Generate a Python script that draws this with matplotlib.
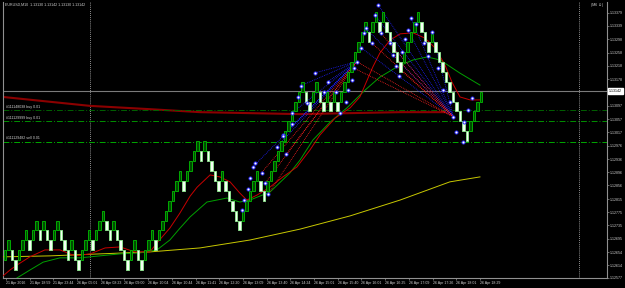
import matplotlib
matplotlib.use("Agg")
import matplotlib.pyplot as plt

plt.rcParams["font.family"] = ["Liberation Sans", "DejaVu Sans"]

# chart header and axis labels
title = "EURUSD,M10  1.13130 1.13142 1.13130 1.13142"
bid = 1.13142
price_ticks = [1.13379, 1.13339, 1.13298, 1.13258, 1.13218, 1.13178, 1.13097, 1.13057,
               1.13017, 1.12976, 1.12936, 1.12896, 1.12856, 1.12815, 1.12775, 1.12735,
               1.12695, 1.12654, 1.12614, 1.12577]
time_labels = ["21 Apr 2016", "21 Apr 18:59", "21 Apr 23:44", "26 Apr 05:01", "26 Apr 08:23",
               "26 Apr 09:00", "26 Apr 10:04", "26 Apr 10:44", "26 Apr 11:41", "26 Apr 12:20",
               "26 Apr 13:09", "26 Apr 13:40", "26 Apr 14:24", "26 Apr 15:01", "26 Apr 15:40",
               "26 Apr 16:01", "26 Apr 16:25", "26 Apr 17:09", "26 Apr 17:26", "26 Apr 18:01",
               "26 Apr 18:29"]

# renko bricks: bottom level of each brick (in bricks above base price)
base_price = 1.12600
brick = 0.00030
renko_levels = [1, 2, 1, 0, 1, 2, 3, 2, 3, 4, 3, 4, 3, 2, 3, 4, 3, 2, 1, 2, 1, 0, 1, 2, 3, 2, 3,
                4, 5, 4, 3, 4, 3, 2, 1, 0, 1, 2, 1, 0, 1, 2, 3,
                2, 3, 4, 5, 6, 7, 8, 9, 8, 9, 10, 11, 12, 11, 12, 11, 10, 9, 8, 9, 8, 7, 6, 5, 4,
                5, 6, 7, 8, 9, 8, 7, 8, 9, 10, 11, 12, 13, 14, 15, 16, 17,
                18, 17, 16, 17, 18, 17, 16, 17, 16, 17, 16, 17, 18, 19, 20, 21, 22, 23, 24, 23,
                24, 25, 24, 25,
                24, 23, 22, 21, 20, 21, 22, 23, 24, 25, 24, 23, 22, 23, 22, 21, 20, 19, 18, 17,
                16, 15, 14, 13, 14, 15, 16, 17]

# moving averages (bar index, price)
ma_fast_x = [-0.6, 1.4, 3.4, 7.1, 11.4, 15.7, 20, 24.3, 28.6, 32.9, 37.1, 41.4, 43.4, 47.1, 50,
             52.9, 54.9, 58.6, 61.4, 64.3, 67.1, 69.1, 72, 75.7, 79.4, 83.4, 87.1, 90, 94.3,
             98.6, 101.4, 105.1, 107.1, 110, 112.9, 116.6, 120, 122.9, 125.7, 127.7, 130,
             132.9, 135.7]
ma_fast_y = [1.12582, 1.12600, 1.12615, 1.12640, 1.12661, 1.12661, 1.12643, 1.12649, 1.12667,
             1.12670, 1.12655, 1.12655, 1.12682, 1.12727, 1.12773, 1.12824, 1.12851, 1.12888,
             1.12882, 1.12867, 1.12833, 1.12812, 1.12827, 1.12851, 1.12882, 1.12912, 1.12963,
             1.13009, 1.13060, 1.13091, 1.13124, 1.13215, 1.13257, 1.13296, 1.13315, 1.13318,
             1.13302, 1.13272, 1.13221, 1.13169, 1.13124, 1.13115, 1.13115]
ma_mid_x = [3.4, 7.1, 10.9, 15.7, 21.4, 27.1, 32.9, 38.6, 43.4, 47.1, 50, 52.9, 57.7, 63.4,
            67.1, 70, 75.7, 81.4, 84.3, 88, 92.9, 97.7, 102.9, 107.1, 112, 116.6, 120.6,
            124.3, 130, 135.7]
ma_mid_y = [1.12576, 1.12600, 1.12624, 1.12637, 1.12637, 1.12643, 1.12649, 1.12652, 1.12661,
            1.12691, 1.12727, 1.12761, 1.12806, 1.12818, 1.12806, 1.12812, 1.12836, 1.12894,
            1.12933, 1.12994, 1.13048, 1.13091, 1.13145, 1.13184, 1.13215, 1.13236, 1.13245,
            1.13236, 1.13196, 1.13160]
ma_slow_x = [-0.6, 12.9, 27.1, 41.4, 55.7, 70, 84.3, 98.6, 112.9, 127.1, 135.7]
ma_slow_y = [1.12640, 1.12643, 1.12649, 1.12655, 1.12667, 1.12691, 1.12724, 1.12764, 1.12812,
             1.12867, 1.12882]
ma_htf_x = [-0.6, 24.3, 41.4, 55.7, 70, 84.3, 98.6, 112.9, 125.7]
ma_htf_y = [1.13124, 1.13097, 1.13087, 1.13078, 1.13075, 1.13072, 1.13075, 1.13078, 1.13078]

# open orders
order_prices = [1.13084, 1.13051, 1.12988]
order_labels = ["#111148038 buy 0.01", "#111129999 buy 0.01", "#111129482 sell 0.01"]
order_colors = ["#006000", "#009000", "#00a800"]

# day separators (bar index)
separators = [24.3, 164.0]

# pivot markers
piv_x = [79.5, 81.9, 81.9, 83.8, 84.5, 86.2, 88.6, 91.2, 92.2, 94.6, 95.7, 97.3, 98.1, 99.1,
         99.7, 100.5, 101.7, 102.6, 103.1, 105.7, 106.7, 107.4, 104.9, 110, 110.9, 111.7,
         112.6, 113.5, 114.3, 115.1, 116, 117.4, 119.7, 120.9, 121.9, 123.6, 125.2, 127.1,
         128.1, 128.8, 131.2, 132.2, 130.8, 133.3, 67.6, 68.4, 69.3, 70, 70.9, 71.4, 73.3,
         74.3, 75.2, 77.6, 79.3, 80.3]
piv_y = [1.13009, 1.13075, 1.13042, 1.13123, 1.13158, 1.13105, 1.13197, 1.13140, 1.13170,
         1.13140, 1.13075, 1.13110, 1.13145, 1.13175, 1.13211, 1.13231, 1.13273, 1.13317,
         1.13332, 1.13372, 1.13402, 1.13317, 1.13286, 1.13286, 1.13251, 1.13218, 1.13187,
         1.13261, 1.13298, 1.13327, 1.13362, 1.13344, 1.13286, 1.13248, 1.13322, 1.13211,
         1.13145, 1.13110, 1.13064, 1.13019, 1.13049, 1.13084, 1.12989, 1.13122, 1.12782,
         1.12812, 1.12845, 1.12878, 1.12913, 1.12923, 1.12895, 1.12863, 1.12830, 1.12972,
         1.13007, 1.12950]

# fan trendlines: hub -> anchors (bar index, price)
hub_a = (100.5, 1.13231)
hub_b = (128.1, 1.13064)
fan_a_blue = [(84.5, 1.13158), (88.6, 1.13197), (81.9, 1.13075), (79.5, 1.13009),
              (92.2, 1.13170), (79.3, 1.13007), (77.6, 1.12972), (70.9, 1.12913)]
fan_a_red = [(73.3, 1.12895), (74.3, 1.12863), (75.2, 1.12830), (80.3, 1.12950),
             (128.1, 1.13064)]
fan_b_blue = [(106.7, 1.13402), (105.7, 1.13372), (103.1, 1.13332), (101.7, 1.13273),
              (110, 1.13286), (116, 1.13362), (115.1, 1.13327), (121.9, 1.13322)]
fan_b_red = [(107.4, 1.13317), (110.9, 1.13251), (111.7, 1.13218), (104.9, 1.13286),
             (99.7, 1.13211)]

fs = 2.6
txt = "#d0d0d0"

fig = plt.figure(figsize=(6.25, 2.88), dpi=100, facecolor="black")
ax = fig.add_axes([3 / 625, 10 / 288, 604 / 625, 276 / 288], facecolor="black")
ax.set_xlim(-0.571, 172.0)
ax.set_ylim(1.125760, 1.134114)

for s in separators:
    ax.axvline(s, color="#c0c0c0", lw=0.6, ls=(0, (1, 1.5)), zorder=1)
ax.plot(ma_htf_x, ma_htf_y, color="#8b0000", lw=1.5, zorder=2)
for p, lab, c in zip(order_prices, order_labels, order_colors):
    ax.axhline(p, color=c, lw=0.7, ls=(0, (6, 2, 1, 2)), zorder=2)
    ax.annotate(lab, (0, p), xycoords=("axes fraction", "data"), xytext=(2.5, 1),
                textcoords="offset points", fontsize=fs, color=txt, va="bottom")
ax.axhline(bid, color="#7a7a7a", lw=0.8, zorder=2)

ax.plot(ma_slow_x, ma_slow_y, color="#c8c800", lw=0.7, zorder=3)
ax.plot(ma_mid_x, ma_mid_y, color="#00a000", lw=0.7, zorder=3)
ax.plot(ma_fast_x, ma_fast_y, color="#c80000", lw=0.7, zorder=3)

# fans
for hub, pts, col in [(hub_a, fan_a_blue, "#2020ff"), (hub_a, fan_a_red, "#ff2020"),
                      (hub_b, fan_b_blue, "#2020ff"), (hub_b, fan_b_red, "#ff2020")]:
    for px, py in pts:
        ax.plot([hub[0], px], [hub[1], py], color=col, lw=0.6, ls=(0, (1, 1.2)), zorder=3)

# renko bricks
for i, lv in enumerate(renko_levels):
    up = True if i == 0 else lv > renko_levels[i - 1]
    bottom = base_price + brick * lv
    if up:
        ax.bar(i, brick, bottom=bottom, width=0.75, color="#004a00", edgecolor="#00c000",
               linewidth=0.6, zorder=4)
    else:
        ax.bar(i, brick, bottom=bottom, width=0.75, color="#f4fff4", edgecolor="#90ee90",
               linewidth=0.6, zorder=4)

ax.plot(piv_x, piv_y, ls="none", marker="o", ms=2.2, mfc="white", mec="#3030ff", mew=0.7,
        zorder=5)

# axes styling
for side in ["left", "bottom", "right"]:
    ax.spines[side].set_color("#909090")
    ax.spines[side].set_linewidth(0.8)
ax.spines["top"].set_visible(False)
ax.yaxis.tick_right()
ax.set_yticks(price_ticks)
ax.set_yticklabels([f"{p:.5f}" for p in price_ticks])
ax.tick_params(axis="y", colors="#909090", labelcolor=txt, labelsize=fs, length=1.2,
               width=0.5, pad=0.5)
ax.set_xticks([0.29 + 6.77 * k for k in range(len(time_labels))])
ax.set_xticklabels(time_labels, ha="left")
ax.tick_params(axis="x", colors="#909090", labelcolor=txt, labelsize=fs, length=1.5,
               width=0.5, pad=1)

ax.annotate(f"{bid:.5f}", (1, bid), xycoords=("axes fraction", "data"), xytext=(1.2, 0),
            textcoords="offset points", fontsize=fs, color="black", va="center",
            bbox=dict(boxstyle="square,pad=0.3", fc="white", ec="white"))
ax.text(0.004, 0.997, title, transform=ax.transAxes, fontsize=fs, color=txt,
        va="top", ha="left")
ax.text(0.993, 0.997, "(M6 \u263a)", transform=ax.transAxes, fontsize=fs, color=txt,
        va="top", ha="right")

fig.savefig("out.png", dpi=100, facecolor="black")
